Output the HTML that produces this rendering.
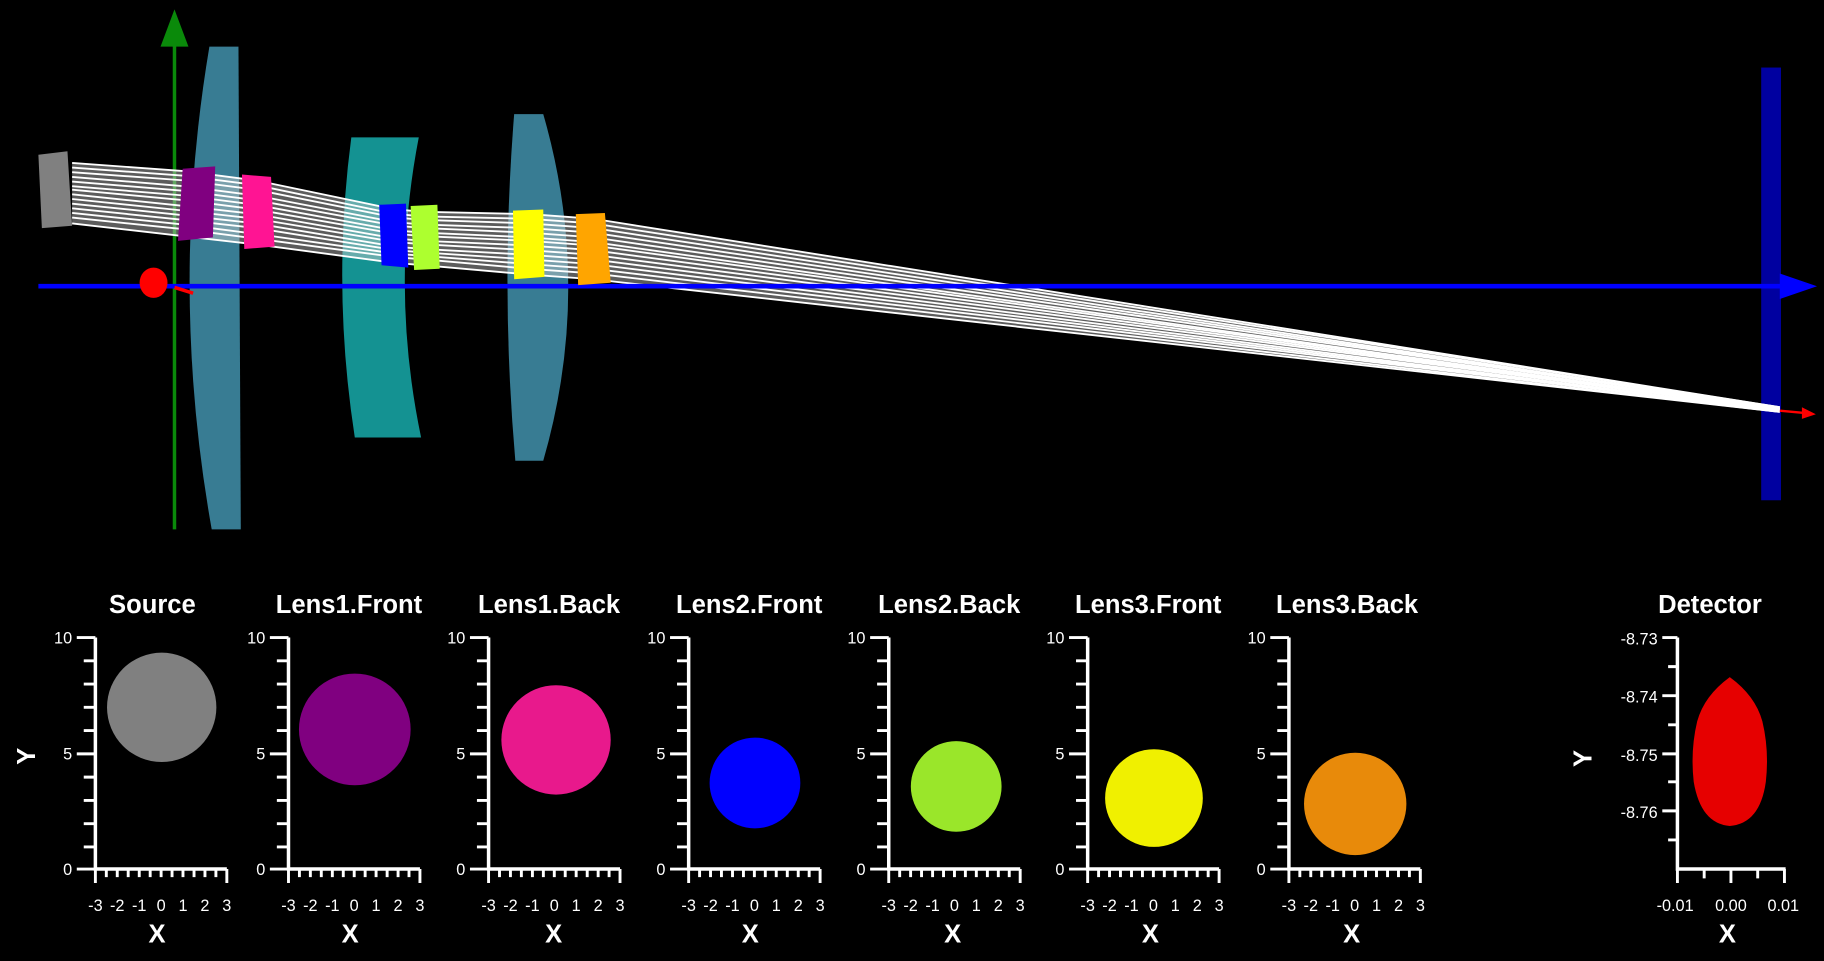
<!DOCTYPE html>
<html><head><meta charset="utf-8"><style>
html,body{margin:0;padding:0;background:#000;}
svg{display:block}
text{font-family:"Liberation Sans",Arial,sans-serif;fill:#fff}
.t{font-weight:bold;font-size:22px;text-anchor:middle}
.n{font-size:14px;text-anchor:middle}
.ny{font-size:14px;text-anchor:end}
</style></head><body>
<svg width="1824" height="961" viewBox="0 0 1568 826" xmlns="http://www.w3.org/2000/svg">
<rect width="1568" height="826" fill="#000"/>
<defs>
<g id="ax" stroke="#fff" fill="none">
<path d="M0,548V747H113" stroke-width="3"/>
<path d="M-16,548H0M-16,648H0M-16,747H0" stroke-width="2.5"/>
<path d="M-10,568H0M-10,588H0M-10,608H0M-10,628H0M-10,668H0M-10,688H0M-10,708H0M-10,728H0" stroke-width="2.5"/>
<path d="M0,747v12M9.4,747v7M18.8,747v7M28.2,747v7M37.7,747v7M47.1,747v7M56.5,747v7M65.9,747v7M75.3,747v7M84.8,747v7M94.2,747v7M103.6,747v7M113,747v12" stroke-width="2.5"/>
</g>
<g id="lab">
<text class="ny" x="-20" y="553">10</text>
<text class="ny" x="-20" y="653">5</text>
<text class="ny" x="-20" y="752">0</text>
<text class="n" x="0" y="783">-3</text><text class="n" x="18.8" y="783">-2</text><text class="n" x="37.7" y="783">-1</text><text class="n" x="56.5" y="783">0</text><text class="n" x="75.3" y="783">1</text><text class="n" x="94.2" y="783">2</text><text class="n" x="113" y="783">3</text>
</g>
</defs>

<line x1="150" y1="35" x2="150" y2="455" stroke="#0a8a0a" stroke-width="3"/>
<polygon points="150,8 138,40 162,40" fill="#0a8a0a"/>
<path d="M180,40 L205,40 L207,455 L182,455 Q145,248 180,40Z" fill="#3e8aa3" opacity="0.9"/>
<path d="M302,118 L360,118 Q335,247 362,376 L305,376 Q285,247 302,118Z" fill="#159a9a" opacity="0.95"/>
<path d="M442,98 L467,98 Q510,247 467,396 L443,396 Q430,247 442,98Z" fill="#3e8aa3" opacity="0.9"/>
<rect x="1514" y="58" width="17" height="372" fill="#0000a0"/>
<polygon points="62,140 158,147 220,155 340,180 365,182 455,184 510,188 1530,350 1530,354 510,240 455,236 365,228 340,226 220,210 158,203 62,192" fill="#ccc" opacity="0.45"/>
<g stroke="#fff" stroke-width="1.6" fill="none">
<polyline points="62,140 158,147 220,155 340,180 365,182 455,184 510,188 1530,350"/>
<polyline points="62,144 158,151 220,159 340,184 365,186 455,188 510,192 1530,350"/>
<polyline points="62,148 158,155 220,163 340,187 365,189 455,192 510,196 1530,351"/>
<polyline points="62,152 158,160 220,168 340,191 365,193 455,196 510,200 1530,351"/>
<polyline points="62,156 158,164 220,172 340,194 365,196 455,200 510,204 1530,351"/>
<polyline points="62,160 158,168 220,176 340,198 365,200 455,204 510,208 1530,352"/>
<polyline points="62,163 158,172 220,180 340,201 365,203 455,207 510,211 1530,352"/>
<polyline points="62,167 158,177 220,184 340,205 365,207 455,211 510,215 1530,352"/>
<polyline points="62,171 158,181 220,188 340,208 365,210 455,215 510,219 1530,352"/>
<polyline points="62,175 158,185 220,192 340,212 365,214 455,219 510,223 1530,353"/>
<polyline points="62,179 158,189 220,196 340,215 365,217 455,223 510,227 1530,353"/>
<polyline points="62,183 158,193 220,201 340,218 365,220 455,227 510,231 1530,353"/>
<polyline points="62,187 158,197 220,205 340,221 365,223 455,231 510,235 1530,354"/>
<polyline points="62,192 158,203 220,210 340,226 365,228 455,236 510,240 1530,354"/>
</g>
<line x1="33" y1="246" x2="1535" y2="246" stroke="#0000ff" stroke-width="4"/>
<polygon points="1562,246 1530,235 1530,257" fill="#0000ff"/>
<ellipse cx="132" cy="243" rx="12" ry="13" fill="#ff0000"/>
<line x1="150" y1="247" x2="166" y2="252" stroke="#ff0000" stroke-width="3"/>
<line x1="1530" y1="353" x2="1552" y2="355" stroke="#ff0000" stroke-width="2"/>
<polygon points="1561,356 1549,350 1549,360" fill="#ff0000"/>
<path d="M33,133 L58,130 L62,194 L36,196Z" fill="#808080"/>
<polygon points="157,145 185,143 183,204 153,207" fill="#800080"/>
<polygon points="208,150 233,152 236,212 210,214" fill="#ff1493"/>
<polygon points="326,176 349,175 351,230 328,228" fill="#0000ff"/>
<polygon points="353,177 376,176 378,231 356,232" fill="#adff2f"/>
<polygon points="441,181 467,180 468,238 442,240" fill="#ffff00"/>
<polygon points="495,184 520,183 525,243 497,245" fill="#ffa500"/>

<g transform="translate(82,0)"><use href="#ax"/><use href="#lab"/><text class="t" x="49" y="527">Source</text><text class="t" x="53" y="810">X</text><circle cx="57" cy="608" r="47" fill="#808080"/></g>
<g transform="translate(248,0)"><use href="#ax"/><use href="#lab"/><text class="t" x="52" y="527">Lens1.Front</text><text class="t" x="53" y="810">X</text><circle cx="57" cy="627" r="48" fill="#800080"/></g>
<g transform="translate(420,0)"><use href="#ax"/><use href="#lab"/><text class="t" x="52" y="527">Lens1.Back</text><text class="t" x="56" y="810">X</text><circle cx="58" cy="636" r="47" fill="#e8198c"/></g>
<g transform="translate(592,0)"><use href="#ax"/><use href="#lab"/><text class="t" x="52" y="527">Lens2.Front</text><text class="t" x="53" y="810">X</text><circle cx="57" cy="673" r="39" fill="#0000ff"/></g>
<g transform="translate(764,0)"><use href="#ax"/><use href="#lab"/><text class="t" x="52" y="527">Lens2.Back</text><text class="t" x="55" y="810">X</text><circle cx="58" cy="676" r="39" fill="#9ae62a"/></g>
<g transform="translate(935,0)"><use href="#ax"/><use href="#lab"/><text class="t" x="52" y="527">Lens3.Front</text><text class="t" x="54" y="810">X</text><circle cx="57" cy="686" r="42" fill="#f0f000"/></g>
<g transform="translate(1108,0)"><use href="#ax"/><use href="#lab"/><text class="t" x="50" y="527">Lens3.Back</text><text class="t" x="54" y="810">X</text><circle cx="57" cy="691" r="44" fill="#e88a0a"/></g>
<text class="t" transform="translate(30,650) rotate(-90)">Y</text>

<g stroke="#fff" fill="none" stroke-width="2.5">
<path d="M1442,548V747H1535" stroke-width="3"/>
<path d="M1429,548H1442M1429,598H1442M1429,648H1442M1429,697H1442"/>
<path d="M1434,573H1442M1434,623H1442M1434,672H1442M1434,722H1442"/>
<path d="M1442,747v12M1465,747v8M1488,747v12M1511,747v8M1534,747v12"/>
</g>
<text class="ny" x="1425" y="554">-8.73</text>
<text class="ny" x="1425" y="604">-8.74</text>
<text class="ny" x="1425" y="654">-8.75</text>
<text class="ny" x="1425" y="703">-8.76</text>
<text class="n" x="1440" y="783">-0.01</text>
<text class="n" x="1488" y="783">0.00</text>
<text class="n" x="1533" y="783">0.01</text>
<text class="t" x="1470" y="527">Detector</text>
<text class="t" x="1485" y="810">X</text>
<text class="t" transform="translate(1368,652) rotate(-90)">Y</text>
<path d="M1487,582 Q1465,598 1459,620 Q1453,645 1456,672 Q1462,708 1487,710 Q1513,708 1518,672 Q1521,645 1515,620 Q1509,598 1487,582Z" fill="#e60000"/>
</svg>
</body></html>
